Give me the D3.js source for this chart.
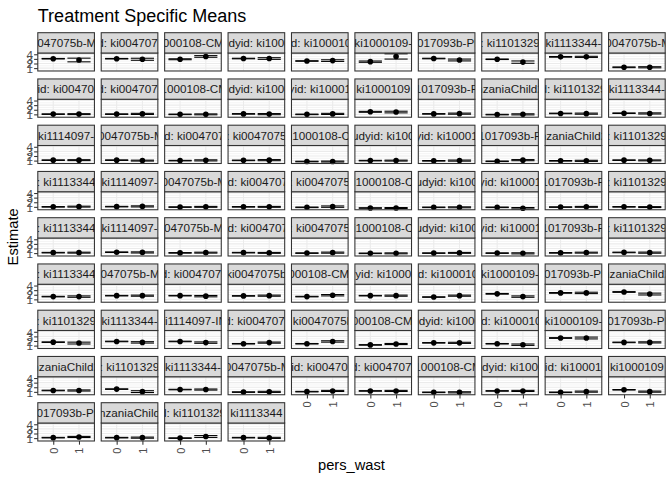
<!DOCTYPE html>
<html><head><meta charset="utf-8">
<script src="https://cdn.jsdelivr.net/npm/d3@7"></script>
<style>body{margin:0;background:#fff} svg{display:block} text{font-family:"Liberation Sans", Arial, Helvetica, sans-serif}</style>
</head><body><svg id="chart" width="672" height="480"></svg>
<script>
// ---- data ----
const panelLabels = [
 "i0047075b-MA","id: ki0047075","i1000108-CMC","udyid: ki1000","id: ki100010"," ki1000109-","1017093b-PR",": ki1101329"," ki1113344-","i0047075b-M",
 "yid: ki004707","id: ki0047075","i1000108-CM","udyid: ki1000","yid: ki10001"," ki1000109","1017093b-P","nzaniaChild2","d: ki1101329"," ki1113344-",
 " ki1114097-","i0047075b-M","id: ki004707",": ki0047075","i1000108-C","udyid: ki100","yid: ki10001","1017093b-P","nzaniaChild2",": ki1101329",
 ": ki1113344"," ki1114097-","i0047075b-M","id: ki004707",": ki0047075","i1000108-C","udyid: ki100","yid: ki10001","1017093b-P",": ki1101329",
 ": ki1113344"," ki1114097-","i0047075b-MA","id: ki004707",": ki0047075","i1000108-C","udyid: ki100","yid: ki10001","1017093b-P",": ki1101329",
 ": ki1113344","i0047075b-MA","id: ki0047075","ki0047075b","1000108-CMC","yid: ki1000","id: ki100010"," ki1000109-","1017093b-PR","nzaniaChild2",
 ": ki1101329"," ki1113344-","ki1114097-IN","id: ki0047075",": ki0047075b","1000108-CMC","udyid: ki1000","id: ki100010"," ki1000109-","1017093b-PR",
 "nzaniaChild2",": ki1101329"," ki1113344-","i0047075b-M","yid: ki004707","id: ki0047075","i1000108-CM","udyid: ki1000","yid: ki100010"," ki1000109",
 "1017093b-PR","nzaniaChild","d: ki1101329"," ki1113344"
];
const persWast = ["0", "1"];
const est0 = [
 3.04,3.04,2.92,3.08,2.54,2.40,3.08,2.92,3.44,1.18,
 1.05,1.05,1.00,1.10,1.00,1.55,1.10,0.95,1.20,1.25,
 1.10,1.10,1.00,1.05,0.80,1.00,0.95,0.85,0.95,1.10,
 1.00,1.05,0.95,1.00,0.90,0.75,0.90,0.90,0.95,1.00,
 1.10,1.20,1.05,1.10,1.00,0.95,1.00,1.00,1.05,1.15,
 1.60,1.80,1.80,1.75,1.60,1.80,1.50,2.20,2.40,2.60,
 1.75,1.90,1.90,1.40,1.40,1.15,1.60,1.40,2.65,1.70,
 1.30,1.60,1.50,0.95,1.05,1.20,0.90,1.20,0.90,1.45,
 1.10,1.10,1.00,1.10
];
const est1 = [
 2.76,2.92,3.53,3.08,2.63,3.53,2.76,2.30,3.44,1.18,
 1.05,1.10,1.00,1.05,1.10,1.50,1.15,1.00,1.15,1.20,
 1.10,1.00,1.05,1.10,0.80,1.00,1.00,1.10,0.95,1.05,
 1.05,1.10,1.00,1.00,1.05,0.75,0.90,0.70,1.00,0.95,
 1.10,1.15,1.10,1.05,1.10,0.95,1.05,0.95,1.10,1.10,
 1.60,1.80,1.70,1.80,1.90,1.80,1.80,1.60,2.40,2.15,
 1.55,1.70,1.65,1.65,1.90,1.35,1.60,1.20,2.65,1.70,
 1.30,1.05,1.50,1.00,1.20,1.20,0.90,1.20,1.05,1.05,
 1.25,1.10,1.35,1.05
];
const ciHalf0 = [
 0.06,0.06,0.10,0.06,0.06,0.14,0.06,0.06,0.08,0.08,
 0.06,0.06,0.06,0.06,0.06,0.10,0.06,0.06,0.06,0.06,
 0.06,0.06,0.06,0.06,0.06,0.06,0.06,0.06,0.06,0.06,
 0.06,0.06,0.06,0.06,0.06,0.06,0.06,0.06,0.06,0.06,
 0.06,0.06,0.06,0.06,0.06,0.06,0.06,0.06,0.06,0.06,
 0.06,0.06,0.06,0.06,0.06,0.06,0.06,0.08,0.08,0.08,
 0.06,0.06,0.06,0.06,0.06,0.06,0.06,0.06,0.08,0.06,
 0.06,0.06,0.06,0.06,0.06,0.06,0.06,0.06,0.06,0.06,
 0.06,0.06,0.06,0.06
];
const ciHalf1 = [
 0.40,0.22,0.18,0.18,0.18,0.57,0.20,0.25,0.12,0.12,
 0.10,0.12,0.10,0.12,0.12,0.18,0.12,0.12,0.12,0.12,
 0.10,0.10,0.12,0.12,0.10,0.10,0.12,0.12,0.12,0.10,
 0.10,0.12,0.10,0.10,0.15,0.10,0.10,0.15,0.10,0.10,
 0.10,0.12,0.10,0.10,0.12,0.10,0.10,0.12,0.10,0.12,
 0.15,0.12,0.15,0.12,0.15,0.12,0.12,0.15,0.15,0.20,
 0.20,0.15,0.15,0.12,0.15,0.12,0.12,0.15,0.20,0.12,
 0.12,0.20,0.12,0.12,0.12,0.12,0.12,0.12,0.12,0.12,
 0.12,0.12,0.20,0.12
];
const yTicks = [1, 2, 3, 4];
const yMinor = [0.5, 1.5, 2.5, 3.5];
const nCols = 10, nRows = 9;

// ---- layout ----
const svg = d3.select("#chart");
const colBand = d3.scaleBand().domain(d3.range(nCols)).range([37.8, 665.2]).paddingInner(0.107);
const rowBand = d3.scaleBand().domain(d3.range(nRows)).range([32.7, 441]).paddingInner(0.172);
const stripH = 20.3;

const panels = panelLabels.map((lab, i) => ({
  i, lab, r: Math.floor(i / nCols), c: i % nCols,
  vals: [
    { x: persWast[0], est: est0[i], lo: est0[i] - ciHalf0[i], hi: est0[i] + ciHalf0[i] },
    { x: persWast[1], est: est1[i], lo: est1[i] - ciHalf1[i], hi: est1[i] + ciHalf1[i] }
  ]
}));
const allLo = d3.min(panels, p => d3.min(p.vals, v => v.lo));
const allHi = d3.max(panels, p => d3.max(p.vals, v => v.hi));
const span = allHi - allLo;
const yDomain = [allLo - 0.05 * span, allHi + 0.05 * span];

const defs = svg.append("defs");
const lastRowOfCol = c => d3.max(panels.filter(p => p.c === c), p => p.r);

panels.forEach(p => {
  const x0 = colBand(p.c), w = colBand.bandwidth();
  const top = rowBand(p.r);
  const py = top + stripH, ph = rowBand.bandwidth() - stripH;
  const x = d3.scalePoint().domain(persWast).range([x0, x0 + w]).padding(0.6);
  const y = d3.scaleLinear().domain(yDomain).range([py + ph, py]);
  const g = svg.append("g");

  // panel background & grid
  g.append("rect").attr("x", x0).attr("y", py).attr("width", w).attr("height", ph).attr("fill", "#fff");
  g.selectAll(".minor").data(yMinor.filter(v => v >= yDomain[0] && v <= yDomain[1])).join("line")
    .attr("x1", x0).attr("x2", x0 + w).attr("y1", d => y(d)).attr("y2", d => y(d))
    .attr("stroke", "#EBEBEB").attr("stroke-width", 0.53);
  g.selectAll(".major").data(yTicks).join("line")
    .attr("x1", x0).attr("x2", x0 + w).attr("y1", d => y(d)).attr("y2", d => y(d))
    .attr("stroke", "#EBEBEB").attr("stroke-width", 1.07);
  g.selectAll(".vmajor").data(persWast).join("line")
    .attr("x1", d => x(d)).attr("x2", d => x(d)).attr("y1", py).attr("y2", py + ph)
    .attr("stroke", "#EBEBEB").attr("stroke-width", 1.07);

  // error bars
  const hw = 0.45 * x.step();
  const eb = g.selectAll(".eb").data(p.vals).join("g");
  eb.append("line").attr("x1", d => x(d.x)).attr("x2", d => x(d.x)).attr("y1", d => y(d.lo)).attr("y2", d => y(d.hi))
    .attr("stroke", "#000").attr("stroke-width", 1.07);
  eb.append("line").attr("x1", d => x(d.x) - hw).attr("x2", d => x(d.x) + hw).attr("y1", d => y(d.lo)).attr("y2", d => y(d.lo))
    .attr("stroke", "#000").attr("stroke-width", 1.07);
  eb.append("line").attr("x1", d => x(d.x) - hw).attr("x2", d => x(d.x) + hw).attr("y1", d => y(d.hi)).attr("y2", d => y(d.hi))
    .attr("stroke", "#000").attr("stroke-width", 1.07);
  // points
  g.selectAll(".pt").data(p.vals).join("circle")
    .attr("cx", d => x(d.x)).attr("cy", d => y(d.est)).attr("r", 2.8).attr("fill", "#000");

  // border
  g.append("rect").attr("x", x0).attr("y", py).attr("width", w).attr("height", ph)
    .attr("fill", "none").attr("stroke", "#333333").attr("stroke-width", 1.07);

  // strip
  const cid = "clip" + p.i;
  defs.append("clipPath").attr("id", cid).append("rect").attr("x", x0).attr("y", top).attr("width", w).attr("height", stripH);
  g.append("rect").attr("x", x0).attr("y", top).attr("width", w).attr("height", stripH)
    .attr("fill", "#D9D9D9").attr("stroke", "#333333").attr("stroke-width", 1.07);
  g.append("text").attr("clip-path", `url(#${cid})`)
    .attr("x", x0 + w / 2).attr("y", top + stripH / 2).attr("dy", "0.36em")
    .attr("text-anchor", "middle").attr("font-size", "11.7px").attr("fill", "#1A1A1A").text(p.lab);

  // y axis on first column
  if (p.c === 0) {
    const ax = g.append("g").attr("transform", `translate(${x0},0)`)
      .call(d3.axisLeft(y).tickValues(yTicks).tickSize(3.67).tickPadding(1.2).tickFormat(d3.format("d")));
    ax.select(".domain").remove();
    ax.selectAll(".tick line").attr("stroke", "#333333").attr("stroke-width", 1.07);
    ax.selectAll(".tick text").attr("dy", "0.36em")
      .attr("fill", "#4D4D4D").attr("font-size", "11.7px").attr("font-family", null);
  }
  // x axis on last panel of each column
  if (p.r === lastRowOfCol(p.c)) {
    const ax = g.append("g").attr("transform", `translate(0,${py + ph})`)
      .call(d3.axisBottom(x).tickSize(3.67));
    ax.select(".domain").remove();
    ax.selectAll(".tick line").attr("stroke", "#333333").attr("stroke-width", 1.07);
    ax.selectAll(".tick text").attr("y", null).attr("dy", null).attr("text-anchor", "end")
      .attr("transform", "translate(4,6.6) rotate(-90)")
      .attr("fill", "#4D4D4D").attr("font-size", "11px").attr("font-family", null);
  }
});

// titles
svg.append("text").attr("x", 37.8).attr("y", 22).attr("font-size", "18px").attr("fill", "#000")
  .text("Treatment Specific Means");
svg.append("text").attr("transform", `translate(18,${(32.7 + 441) / 2}) rotate(-90)`)
  .attr("text-anchor", "middle").attr("font-size", "14.7px").attr("fill", "#000").text("Estimate");
svg.append("text").attr("x", (37.8 + 665.2) / 2).attr("y", 470)
  .attr("text-anchor", "middle").attr("font-size", "14.7px").attr("fill", "#000").text("pers_wast");
</script>
</body></html>
